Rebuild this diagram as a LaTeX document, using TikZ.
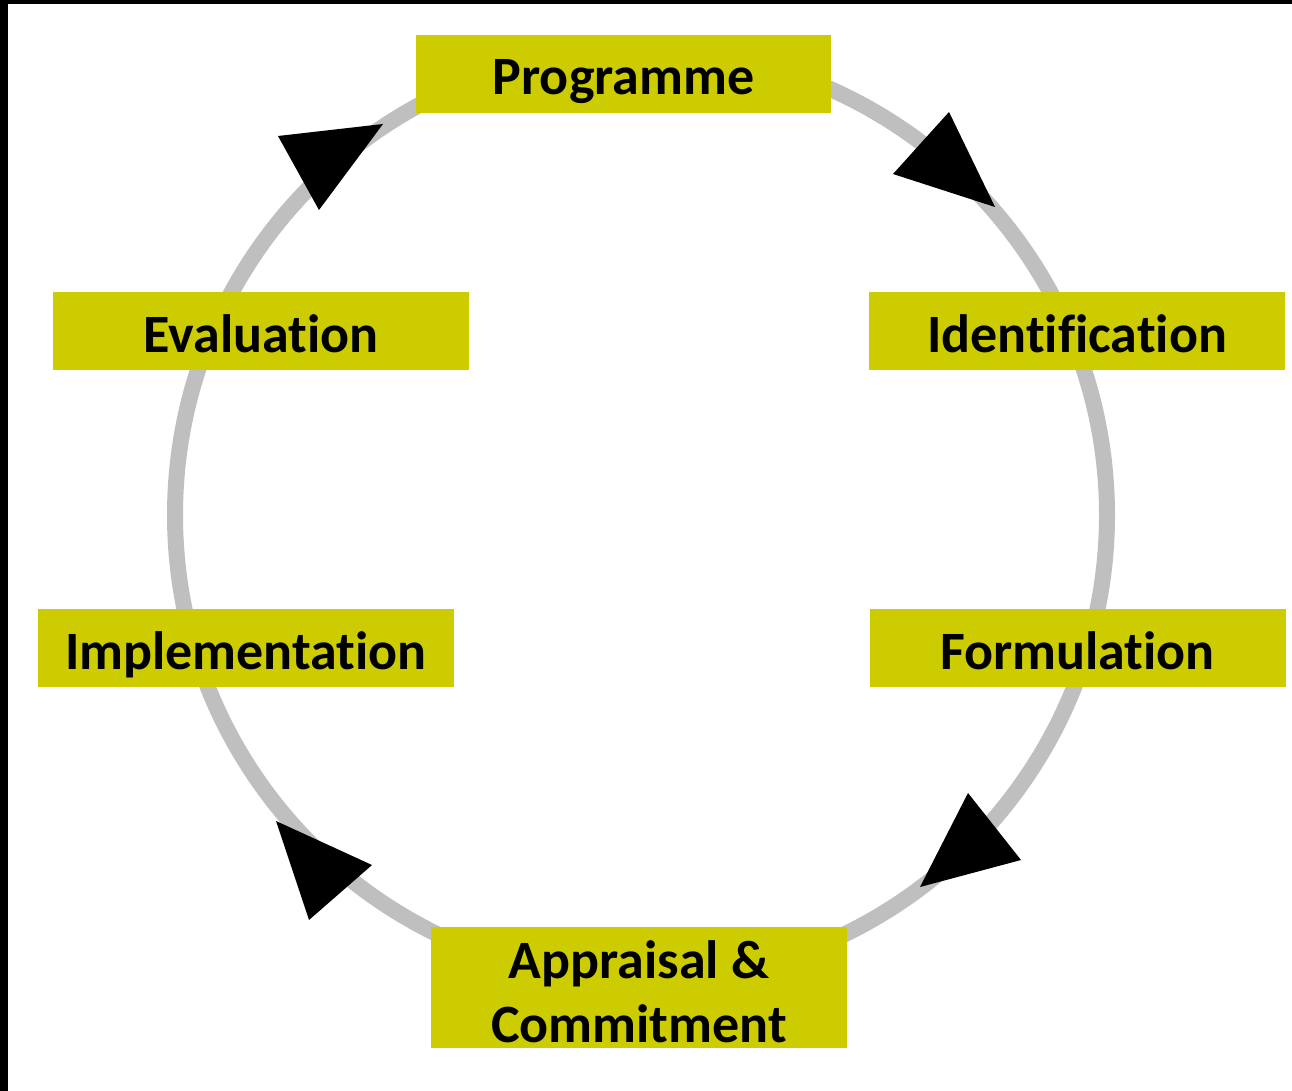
\documentclass[tikz,border=0pt]{standalone}
\usepackage{fontspec}
\setmainfont{Carlito}[Ligatures=NoCommon,RawFeature={-liga;-clig;-dlig}]
\definecolor{boxfill}{RGB}{204,204,0}
\definecolor{ringgray}{RGB}{191,191,191}
\tikzset{
  stagefont/.style={font=\fontsize{54}{64}\selectfont\bfseries, text=black},
  stage/.style={rectangle, fill=boxfill, inner sep=0pt, minimum width=416pt, minimum height=78pt,
    stagefont, text height=42pt, text depth=0pt},
  tip/.style={fill=black, draw=none},
  ring/.style={draw=ringgray, line width=16pt}
}
\begin{document}
\begin{tikzpicture}[x=1pt,y=-1pt]
\useasboundingbox (0,0) rectangle (1292,1091);
\fill[white] (0,0) rectangle (1292,1091);
\fill[black] (0,0) rectangle (8,1091);
\fill[black] (0,0) rectangle (1292,4);
% ring
\coordinate (c) at (641,515);
\draw[ring] (c) circle[radius=466pt];
% stages
\node[stage, minimum width=415pt] (prog) at (623.5,74) {Programme};
\node[stage] (ident) at (1077,331) {Identification};
\node[stage] (form) at (1077.5,648) {Formulation};
\node[stage, minimum height=121pt] (appr) at (639,987.5) {};
\node[stagefont, align=center, inner sep=0pt] (apprtext) at ([yshift=-4pt]appr.center) {Appraisal \&\\Commitment};
\node[stage] (impl) at (246,648) {Implementation};
\node[stage] (evalu) at (261,331) {Evaluation};
% arrow tips
\fill[tip] (278,136) -- (383,124) -- (319,210) -- cycle;
\fill[tip] (893,174) -- (949,112) -- (995,207) -- cycle;
\fill[tip] (968,793) -- (1021,860) -- (920,887) -- cycle;
\fill[tip] (276,821) -- (372,865) -- (309,920) -- cycle;
\end{tikzpicture}
\end{document}
